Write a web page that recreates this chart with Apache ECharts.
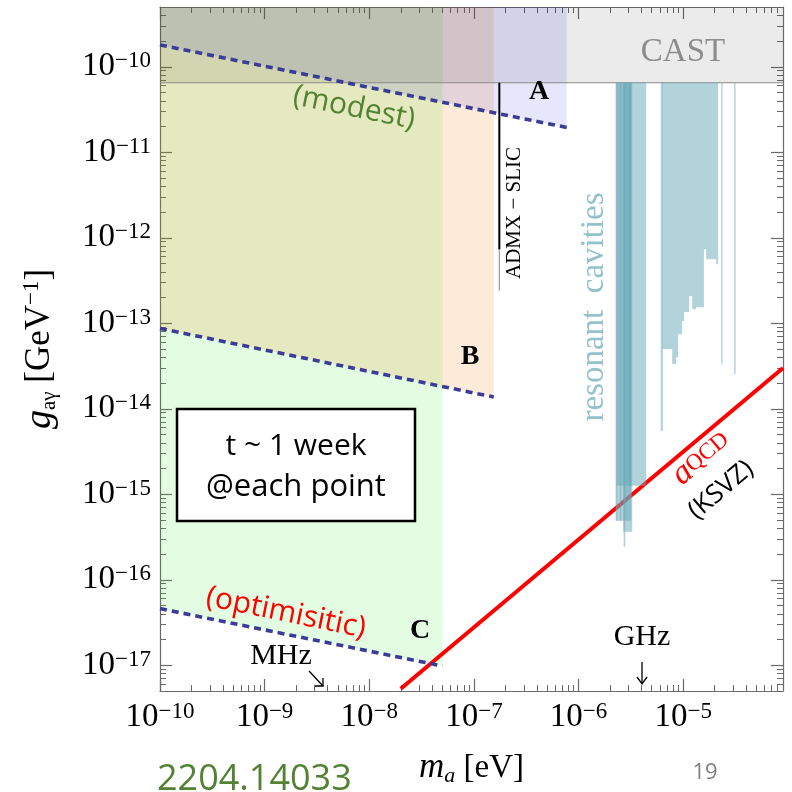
<!DOCTYPE html>
<html>
<head>
<meta charset="utf-8">
<script src="https://cdn.jsdelivr.net/npm/echarts@6/dist/echarts.min.js"></script>
<style>
html, body { margin: 0; padding: 0; background: #fff; }
#chart { width: 792px; height: 792px; }
</style>
</head>
<body>
<div id="chart"></div>
<script>
// Axion mass m_a [eV] vs photon coupling g_aγ [GeV^-1]
const massRange = [1e-10, 9e-5];
const couplingRange = [5e-18, 5e-10];
const massTickExponents = [-10, -9, -8, -7, -6, -5];
const couplingTickExponents = [-17, -16, -15, -14, -13, -12, -11, -10];
const minorMultipliers = [2, 3, 4, 5, 6, 7, 8, 9];

// projected reach, g ∝ m^(-1/4)
const reachAMass = [1e-10, 7.7e-7];
const reachAG = [1.8e-10, 1.95e-11];
const reachBMass = [1e-10, 1.55e-7];
const reachBG = [8.7e-14, 1.37e-14];
const reachCMass = [1e-10, 5e-8];
const reachCG = [4.6e-17, 9.8e-18];

// helioscope limit
const castLimit = 6.5e-11;

// ADMX-SLIC
const admxMass = 1.75e-7;
const admxG = [6.5e-11, 7.3e-13];
const admxFaintG = [7.3e-13, 2.4e-13];

// KSVZ QCD axion band centre
const ksvzMass = [2e-8, 9e-5];
const ksvzG = [5.3e-18, 3.0e-14];

// resonant cavity exclusions: each spans the CAST limit down to cavGLow
const cavMassLo = [2.30e-6, 2.30e-6, 2.67e-6, 2.70e-6, 2.26e-6, 2.48e-6, 3.05e-6, 6.10e-6, 2.31e-5, 3.07e-5];
const cavMassHi = [4.44e-6, 3.19e-6, 3.26e-6, 2.80e-6, 2.35e-6, 2.56e-6, 3.19e-6, 6.40e-6, 2.38e-5, 3.17e-5];
const cavGLow  = [1.26e-15, 4.9e-16, 3.65e-16, 2.44e-16, 4.9e-16, 4.9e-16, 1.26e-15, 5.5e-15, 3.3e-14, 2.55e-14];

// stepped cavity exclusion (bin edges and lower limit per bin)
const stepMass = [6.31e-6, 7.85e-6, 8.57e-6, 8.95e-6, 9.77e-6, 1.02e-5, 1.14e-5, 1.22e-5, 1.33e-5, 1.58e-5, 1.66e-5, 2.07e-5, 2.16e-5];
const stepG = [4.99e-14, 3.33e-14, 4.0e-14, 7.46e-14, 1.06e-13, 1.35e-13, 2.07e-13, 1.46e-13, 1.54e-13, 7.33e-13, 5.6e-13, 4.9e-13];

const L = Math.log10;
const SERIF = '"Liberation Serif", "Times New Roman", serif';
const SANS = '"Open Sans", "Noto Sans", sans-serif';
const FRAME = '#6a6a6a';

const minorTicks = (exps, lo, hi) => {
  const out = [];
  exps.concat([exps[0] - 1, exps[exps.length - 1] + 1]).forEach(n => {
    minorMultipliers.forEach(k => {
      const v = n + L(k);
      if (v > lo && v < hi) out.push(v);
    });
  });
  return out.sort((a, b) => a - b);
};

const xMin = L(massRange[0]), xMax = L(massRange[1]);
const yMin = L(couplingRange[0]), yMax = L(couplingRange[1]);
const xMinor = minorTicks(massTickExponents, xMin, xMax);
const yMinor = minorTicks(couplingTickExponents, yMin, yMax);

const powRich = {
  b: { fontFamily: SERIF, fontSize: 33, lineHeight: 34, color: '#000' },
  s: { fontFamily: SERIF, fontSize: 23, lineHeight: 15, verticalAlign: 'top', color: '#000' }
};
const powLabel = v => '{b|10}{s|\u2212' + Math.abs(Math.round(v)) + '}';

function axisSet(dim, min, max, majors, minors) {
  const sides = dim === 'x' ? ['bottom', 'top'] : ['left', 'right'];
  const axes = [];
  sides.forEach((side, si) => {
    axes.push({
      type: 'value', position: side, min, max, gridIndex: 0,
      axisLine: { show: true, onZero: false, lineStyle: { color: FRAME, width: 1.2 } },
      axisTick: { show: true, inside: true, length: 12, customValues: majors, lineStyle: { color: FRAME, width: 1.2 } },
      axisLabel: si === 0
        ? { show: true, customValues: majors, formatter: powLabel, rich: powRich, margin: 9 }
        : { show: false },
      splitLine: { show: false }
    });
    axes.push({
      type: 'value', position: side, min, max, gridIndex: 0,
      axisLine: { show: false, onZero: false },
      axisTick: { show: true, inside: true, length: 6, customValues: minors, lineStyle: { color: FRAME, width: 1 } },
      axisLabel: { show: false },
      splitLine: { show: false }
    });
  });
  return axes;
}

const xAxes = axisSet('x', xMin, xMax, massTickExponents, xMinor);
const yAxes = axisSet('y', yMin, yMax, couplingTickExponents, yMinor);

xAxes[0].name = '{i|m}{sub|a}{n| [eV]}';
xAxes[0].nameLocation = 'middle';
xAxes[0].nameGap = 58;
xAxes[0].nameTextStyle = {
  rich: {
    i: { fontFamily: SERIF, fontStyle: 'italic', fontSize: 35, lineHeight: 38, color: '#000' },
    sub: { fontFamily: SERIF, fontStyle: 'italic', fontSize: 22, lineHeight: 16, verticalAlign: 'bottom', color: '#000' },
    n: { fontFamily: SERIF, fontSize: 33, lineHeight: 38, color: '#000' }
  }
};
yAxes[0].name = '{i|g}{sub|a\u03b3}{n| [GeV}{sup|\u22121}{n|]}';
yAxes[0].nameLocation = 'middle';
yAxes[0].nameRotate = 90;
yAxes[0].nameGap = 100;
yAxes[0].nameTextStyle = {
  rich: {
    i: { fontFamily: SERIF, fontStyle: 'italic', fontSize: 38, lineHeight: 40, color: '#000' },
    sub: { fontFamily: SERIF, fontSize: 21, lineHeight: 12, verticalAlign: 'bottom', color: '#000' },
    n: { fontFamily: SERIF, fontSize: 35, lineHeight: 40, color: '#000' },
    sup: { fontFamily: SERIF, fontSize: 23, lineHeight: 14, verticalAlign: 'top', color: '#000' }
  }
};

const toPts = (ms, gs) => ms.map((m, i) => [L(m), L(gs[i])]);

function polygonSeries(name, pts, style, z) {
  return {
    name, type: 'custom', coordinateSystem: 'cartesian2d', xAxisIndex: 0, yAxisIndex: 0,
    clip: true, silent: true, z, data: [[pts[0][0], pts[0][1]]],
    renderItem: (params, api) => ({
      type: 'polygon',
      shape: { points: pts.map(p => api.coord(p)) },
      style
    })
  };
}

// region above a reach line, from the left frame up to the top frame
function reachRegion(ms, gs) {
  const p = toPts(ms, gs);
  return [p[0], p[1], [p[1][0], yMax], [p[0][0], yMax]];
}

const castRegion = [[xMin, L(castLimit)], [xMax, L(castLimit)], [xMax, yMax], [xMin, yMax]];

const stepPoly = (() => {
  const top = L(castLimit);
  const pts = [[L(stepMass[0]), top]];
  stepG.forEach((g, i) => {
    pts.push([L(stepMass[i]), L(g)]);
    pts.push([L(stepMass[i + 1]), L(g)]);
  });
  pts.push([L(stepMass[stepMass.length - 1]), top]);
  return pts;
})();

const cavColor = 'rgba(104,168,183,0.5)';

const lineSeries = (name, data, lineStyle, z) => ({
  name, type: 'line', xAxisIndex: 0, yAxisIndex: 0, data, symbol: 'none',
  silent: true, clip: true, z, lineStyle, animation: false
});

const dashStyle = { color: '#3b3b98', width: 3.6, type: [7, 5] };

const series = [
  polygonSeries('reach C', reachRegion(reachCMass, reachCG), { fill: 'rgba(20,235,10,0.12)' }, 1),
  polygonSeries('reach B', reachRegion(reachBMass, reachBG), { fill: 'rgba(242,122,2,0.15)' }, 1),
  polygonSeries('reach A', reachRegion(reachAMass, reachAG), { fill: 'rgba(5,5,225,0.1)' }, 1),
  polygonSeries('CAST', castRegion, { fill: 'rgba(0,0,0,0.08)' }, 1),
  lineSeries('CAST edge', [[xMin, L(castLimit)], [xMax, L(castLimit)]], { color: '#8a8a8a', width: 1.2 }, 2),
  lineSeries('KSVZ', toPts(ksvzMass, ksvzG), { color: '#ff0000', width: 4 }, 3),
  {
    name: 'cavities', type: 'custom', coordinateSystem: 'cartesian2d', xAxisIndex: 0, yAxisIndex: 0,
    clip: true, silent: true, z: 4,
    data: cavMassLo.map((m, i) => [L(m), L(cavMassHi[i]), L(cavGLow[i])]),
    encode: { x: [0, 1], y: 2 },
    renderItem: (params, api) => {
      const a = api.coord([api.value(0), L(castLimit)]);
      const b = api.coord([api.value(1), api.value(2)]);
      return { type: 'rect', shape: { x: a[0], y: a[1], width: b[0] - a[0], height: b[1] - a[1] }, style: { fill: cavColor } };
    }
  },
  polygonSeries('cavities stepped', stepPoly, { fill: cavColor }, 4),
  lineSeries('ADMX-SLIC', [[L(admxMass), L(admxG[0])], [L(admxMass), L(admxG[1])]], { color: '#000', width: 2 }, 5),
  lineSeries('ADMX-SLIC faint', [[L(admxMass), L(admxFaintG[0])], [L(admxMass), L(admxFaintG[1])]], { color: '#9a9a9a', width: 1.2 }, 5),
  lineSeries('reach A line', toPts(reachAMass, reachAG), dashStyle, 6),
  lineSeries('reach B line', toPts(reachBMass, reachBG), dashStyle, 6),
  lineSeries('reach C line', toPts(reachCMass, reachCG), dashStyle, 6)
];

const txt = (x, y, text, font, fill, extra) => Object.assign({
  type: 'text', x, y, z: 100, silent: true,
  style: { text, font, fill, align: 'center', verticalAlign: 'middle' }
}, extra || {});

const tilt = -Math.atan(0.204);
const ksvzTilt = Math.atan(0.84);

const graphic = [
  txt(683, 52, 'CAST', '33px ' + SERIF, '#8c8c8c'),
  txt(539, 92, 'A', 'bold 28px ' + SERIF, '#000'),
  txt(470, 357, 'B', 'bold 28px ' + SERIF, '#000'),
  txt(420, 631, 'C', 'bold 28px ' + SERIF, '#000'),
  txt(354, 108, '(modest)', '30px ' + SANS, '#548235', { rotation: tilt }),
  txt(286, 613, '(optimisitic)', '30px ' + SANS, '#ff0000', { rotation: tilt }),
  txt(514, 213, 'ADMX \u2212 SLIC', '21px ' + SERIF, '#000', { rotation: Math.PI / 2 }),
  txt(594, 307, 'resonant  cavities', '33px ' + SERIF, '#94c2cc', { rotation: Math.PI / 2 }),
  {
    type: 'text', x: 701, y: 458, z: 100, rotation: ksvzTilt, silent: true,
    style: {
      text: '{a|a}{q|QCD}', align: 'center', verticalAlign: 'middle',
      rich: {
        a: { font: 'italic 34px ' + SERIF, fill: '#ff0000' },
        q: { font: '23px ' + SERIF, fill: '#ff0000' }
      }
    }
  },
  txt(721, 490, '(KSVZ)', '26px ' + SANS, '#000', { rotation: ksvzTilt }),
  txt(642, 637, 'GHz', '30px ' + SERIF, '#000'),
  { type: 'line', z: 100, silent: true, shape: { x1: 642, y1: 662, x2: 642, y2: 684 }, style: { stroke: '#000', lineWidth: 1.3 } },
  { type: 'polyline', z: 100, silent: true, shape: { points: [[637, 677], [642, 684], [647, 677]] }, style: { stroke: '#000', lineWidth: 1.3, fill: null } },
  txt(281, 656, 'MHz', '30px ' + SERIF, '#000'),
  { type: 'line', z: 100, silent: true, shape: { x1: 309, y1: 671, x2: 323, y2: 686 }, style: { stroke: '#000', lineWidth: 1.3 } },
  { type: 'polyline', z: 100, silent: true, shape: { points: [[315, 686], [323, 686], [323, 678]] }, style: { stroke: '#000', lineWidth: 1.3, fill: null } },
  { type: 'rect', z: 99, silent: true, shape: { x: 177, y: 409, width: 238, height: 112 }, style: { fill: '#fff', stroke: '#000', lineWidth: 2.5 } },
  txt(296, 446, 't ~ 1 week', '30px ' + SANS, '#000'),
  txt(296, 487, '@each point', '31px ' + SANS, '#000'),
  {
    type: 'text', x: 157, y: 762, z: 100, silent: true,
    style: { text: '2204.14033', font: '36px ' + SANS, fill: '#548235', align: 'left', verticalAlign: 'top' }
  },
  txt(705, 773, '19', '22px ' + SANS, '#7f7f7f')
];

const chart = echarts.init(document.getElementById('chart'), null, { renderer: 'canvas' });
chart.setOption({
  animation: false,
  backgroundColor: '#fff',
  grid: { left: 160, right: 9, top: 7, bottom: 100, containLabel: false },
  xAxis: xAxes,
  yAxis: yAxes,
  series,
  graphic
});
</script>
</body>
</html>
